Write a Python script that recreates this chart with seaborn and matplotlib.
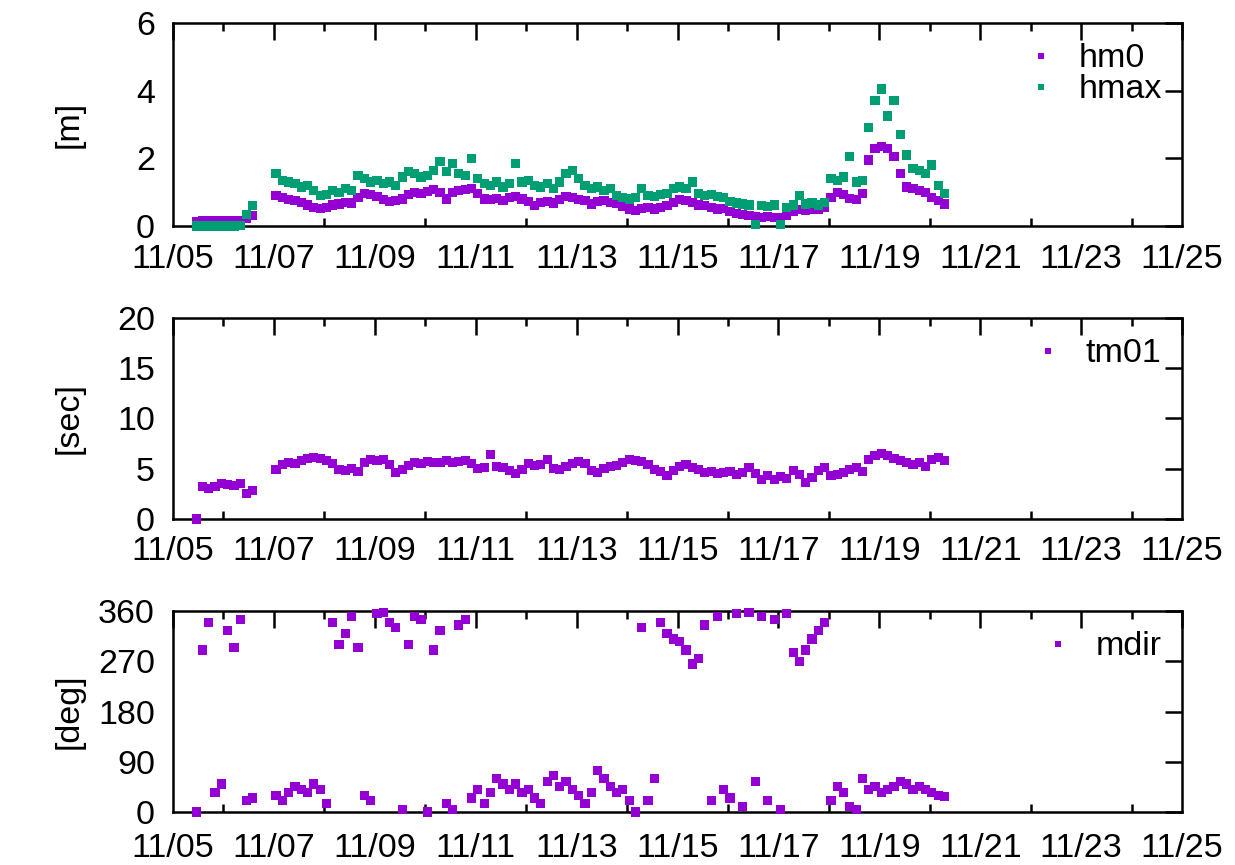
import numpy as np
import pandas as pd
import matplotlib
matplotlib.use("Agg")
import matplotlib.pyplot as plt
import seaborn as sns

# ---------------- data ----------------
# sampling times (hours after 11/05 00:00), two recording segments, 3-hourly
seg1_hours = np.arange(11, 39, 3)      # 11/05 11h .. 11/06 14h
seg2_hours = np.arange(49, 368, 3)     # 11/07 01h .. 11/20 07h

hm0_seg1 = [0.12, 0.15, 0.15, 0.16, 0.15, 0.16, 0.15, 0.17, 0.22, 0.32]
hmax_seg1 = [0.00, 0.00, 0.00, 0.00, 0.00, 0.00, 0.00, 0.02, 0.35, 0.60]
tm01_seg1 = [0.0, 3.2, 3.0, 3.2, 3.5, 3.4, 3.3, 3.5, 2.5, 2.8]
mdir_seg1 = [0, 290, 340, 35, 50, 325, 295, 345, 20, 25]

hm0_seg2 = [
    0.90, 0.84, 0.78, 0.75, 0.70, 0.62, 0.55, 0.52,
    0.55, 0.62, 0.65, 0.70, 0.68, 0.85, 0.95, 0.92,
    0.88, 0.78, 0.72, 0.75, 0.80, 0.92, 1.00, 0.95,
    1.02, 1.08, 0.98, 0.80, 1.00, 1.05, 1.08, 1.12,
    0.95, 0.80, 0.78, 0.82, 0.75, 0.85, 0.88, 0.80,
    0.72, 0.60, 0.70, 0.72, 0.68, 0.78, 0.87, 0.85,
    0.78, 0.75, 0.65, 0.72, 0.75, 0.70, 0.66, 0.58,
    0.50, 0.46, 0.52, 0.55, 0.50, 0.55, 0.60, 0.70,
    0.78, 0.75, 0.70, 0.62, 0.60, 0.55, 0.50, 0.52,
    0.42, 0.38, 0.35, 0.32, 0.28, 0.25, 0.28, 0.26,
    0.25, 0.30, 0.42, 0.48, 0.45, 0.50, 0.48, 0.55,
    0.85, 1.00, 0.92, 0.82, 0.78, 0.95, 1.95, 2.30,
    2.35, 2.30, 2.05, 1.55, 1.15, 1.10, 1.05, 1.00,
    0.85, 0.75, 0.65,
]
hmax_seg2 = [
    1.55, 1.35, 1.30, 1.25, 1.15, 1.20, 1.05, 0.90,
    0.92, 1.05, 1.00, 1.10, 1.05, 1.50, 1.40, 1.30,
    1.35, 1.25, 1.30, 1.20, 1.45, 1.60, 1.55, 1.45,
    1.50, 1.65, 1.90, 1.60, 1.85, 1.55, 1.50, 2.00,
    1.40, 1.25, 1.20, 1.30, 1.15, 1.25, 1.85, 1.30,
    1.35, 1.20, 1.15, 1.25, 1.10, 1.30, 1.55, 1.65,
    1.40, 1.20, 1.10, 1.15, 1.05, 1.10, 0.90, 0.85,
    0.80, 0.85, 1.10, 0.90, 0.88, 0.92, 0.95, 1.10,
    1.15, 1.12, 1.30, 0.95, 0.90, 0.92, 0.88, 0.85,
    0.72, 0.68, 0.65, 0.62, 0.05, 0.60, 0.58, 0.62,
    0.05, 0.55, 0.62, 0.90, 0.65, 0.68, 0.62, 0.70,
    1.40, 1.35, 1.45, 2.05, 1.30, 1.35, 2.90, 3.70,
    4.05, 3.25, 3.70, 2.70, 2.10, 1.70, 1.65, 1.55,
    1.80, 1.20, 0.95,
]
tm01_seg2 = [
    4.9, 5.4, 5.6, 5.5, 5.8, 6.0, 6.1, 6.0,
    5.8, 5.5, 4.9, 4.8, 5.0, 4.7, 5.6, 5.9,
    5.8, 5.9, 5.4, 4.6, 4.9, 5.3, 5.6, 5.5,
    5.7, 5.6, 5.6, 5.8, 5.6, 5.7, 5.8, 5.5,
    5.0, 5.1, 6.4, 5.2, 5.1, 4.8, 4.5, 4.9,
    5.5, 5.3, 5.4, 5.9, 5.0, 4.9, 5.2, 5.5,
    5.7, 5.5, 4.8, 4.6, 5.0, 5.2, 5.3, 5.6,
    5.9, 5.8, 5.7, 5.4, 4.9, 4.7, 4.3, 4.8,
    5.2, 5.4, 5.1, 4.9, 4.6, 4.7, 4.5, 4.6,
    4.7, 4.4, 4.6, 5.1, 4.5, 3.9, 4.3, 3.9,
    4.2, 4.0, 4.8, 4.4, 3.6, 4.1, 4.8, 5.1,
    4.3, 4.4, 4.6, 4.9, 5.1, 4.7, 5.9, 6.3,
    6.5, 6.3, 6.0, 5.8, 5.6, 5.4, 5.6, 5.2,
    5.9, 6.1, 5.8,
]
mdir_seg2 = [
    30, 20, 35, 45, 40, 35, 50, 40,
    15, 340, 300, 320, 350, 295, 30, 20,
    355, 358, 340, 330, 5, 300, 350, 345,
    0, 290, 325, 15, 5, 335, 345, 25,
    40, 15, 35, 60, 50, 40, 50, 35,
    40, 25, 15, 55, 65, 45, 55, 40,
    30, 15, 35, 75, 60, 45, 35, 40,
    20, 0, 330, 20, 60, 340, 320, 310,
    305, 290, 265, 275, 335, 20, 350, 40,
    25, 355, 10, 358, 55, 350, 20, 345,
    5, 355, 285, 270, 290, 310, 325, 340,
    20, 45, 35, 10, 5, 60, 40, 45,
    35, 40, 45, 55, 50, 40, 45, 40,
    35, 30, 28,
]

XTICK_LABELS = ["11/05", "11/07", "11/09", "11/11", "11/13", "11/15",
                "11/17", "11/19", "11/21", "11/23", "11/25"]

# ---------------- frames ----------------
days = np.concatenate([seg1_hours, seg2_hours]) / 24.0
hm0 = hm0_seg1 + hm0_seg2
hmax = hmax_seg1 + hmax_seg2
tm01 = tm01_seg1 + tm01_seg2
mdir = mdir_seg1 + mdir_seg2

df_h = pd.DataFrame({
    "day": np.concatenate([days, days]),
    "value": hm0 + hmax,
    "var": ["hm0"] * len(days) + ["hmax"] * len(days),
})
df_t = pd.DataFrame({"day": days, "value": tm01, "var": "tm01"})
df_d = pd.DataFrame({"day": days, "value": mdir, "var": "mdir"})

PURPLE = "#9400D3"
GREEN = "#009E73"

sns.set_style("white")
plt.rcParams["font.family"] = ["Liberation Sans", "DejaVu Sans"]
plt.rcParams["text.color"] = "black"
plt.rcParams["xtick.color"] = "black"
plt.rcParams["ytick.color"] = "black"
plt.rcParams["axes.labelcolor"] = "black"

fig = plt.figure(figsize=(12.35, 8.65), dpi=100)
L, W = 173 / 1235, 1009 / 1235
axes = [
    fig.add_axes([L, 1 - 226 / 865, W, 203 / 865]),
    fig.add_axes([L, 1 - 519 / 865, W, 201 / 865]),
    fig.add_axes([L, 1 - 812 / 865, W, 201 / 865]),
]

specs = [
    (df_h, {"hm0": PURPLE, "hmax": GREEN}, (0, 6), [0, 2, 4, 6], "[m]", 13),
    (df_t, {"tm01": PURPLE}, (0, 20), [0, 5, 10, 15, 20], "[sec]", 12),
    (df_d, {"mdir": PURPLE}, (0, 360), [0, 90, 180, 270, 360], "[deg]", 15),
]

FS = 24.5
for ax, (df, pal, ylim, yticks, ylab, xpad) in zip(axes, specs):
    sns.scatterplot(data=df, x="day", y="value", hue="var", palette=pal,
                    marker="s", s=44, linewidth=0, ax=ax, clip_on=False,
                    zorder=3)
    ax.set_xlim(0, 20)
    ax.set_ylim(*ylim)
    ax.set_xticks(np.arange(0, 21, 2))
    ax.set_xticklabels(XTICK_LABELS)
    ax.set_xticks(np.arange(0, 21, 1), minor=True)
    ax.set_yticks(yticks)
    ax.tick_params(axis="both", which="major", direction="in", length=12,
                   width=1.8, labelsize=FS, top=True, right=True,
                   color="black", labelcolor="black")
    ax.tick_params(axis="x", which="major", pad=xpad)
    ax.tick_params(axis="y", which="major", pad=13)
    ax.tick_params(axis="x", which="minor", direction="in", length=6,
                   width=1.8, top=True, bottom=True)
    for sp in ax.spines.values():
        sp.set_visible(True)
        sp.set_linewidth(1.8)
        sp.set_color("black")
    ax.set_xlabel("")
    ax.set_ylabel(ylab, fontsize=FS, color="black")
    ax.yaxis.set_label_coords(-0.088, 0.5)
    leg = ax.legend(loc="upper right", frameon=False, fontsize=FS,
                    markerscale=0.58, handletextpad=0.5, labelspacing=0.0,
                    borderaxespad=0.2, handlelength=1.2)
    for t in leg.get_texts():
        t.set_color("black")
    ax.set_facecolor("white")

fig.savefig("out.png", dpi=100, facecolor="white")
